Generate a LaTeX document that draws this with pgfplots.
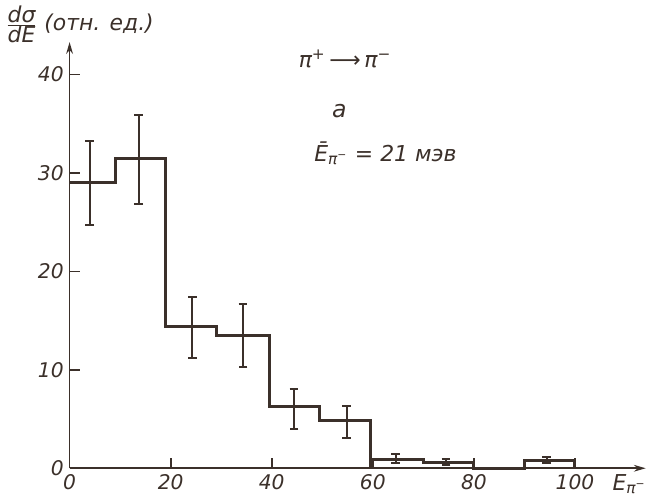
\documentclass[border=0pt]{standalone}
\usepackage{pgfplots}
\pgfplotsset{compat=1.18}
\usepackage{fontspec}
\setmainfont{DejaVu Sans}
\usetikzlibrary{arrows.meta}
\definecolor{ink}{HTML}{3B302A}

\begin{document}
\begin{tikzpicture}
\begin{axis}[
    scale only axis,
    width=342pt, height=253pt,
    xmin=0, xmax=114, ymin=0, ymax=43.3,
    axis lines=left,
    axis line style={ink, line width=1pt, -{Stealth[length=7pt,width=4pt]}},
    xtick={0,20,...,100},
    ytick={0,10,...,40},
    tick align=inside,
    major tick length=6pt,
    tick style={ink, line width=1pt},
    tick label style={font=\fontsize{12}{14}\selectfont\itshape, text=ink},
    /pgf/number format/assume math mode=true,
    clip=false,
]
% histogram
\addplot[const plot, ink, line width=1.8pt] coordinates {
    (0,29) (9,31.5) (19,14.4) (29,13.5) (39.5,6.3) (49.5,4.9)
    (59.6,0) (59.6,0.9) (70,0.6) (80,0) (90,0.8) (100,0)
};
% error bars
\addplot[draw=none, mark=none,
    error bars/.cd, y dir=both, y explicit,
    error bar style={draw=ink, solid, line width=1.2pt},
    error mark options={rotate=90, mark size=2.6pt, draw=ink, line width=1.2pt}]
coordinates {
    (4,28.9)    += (0,4.3) -= (0,4.2)
    (13.7,31.5) += (0,4.4) -= (0,4.7)
    (24.3,14.4) += (0,3.0) -= (0,3.2)
    (34.3,13.5) += (0,3.2) -= (0,3.2)
    (44.4,6.3)  += (0,1.8) -= (0,2.3)
    (54.8,4.9)  += (0,1.4) -= (0,1.8)
    (64.5,0.9)  += (0,0.5) -= (0,0.4)
    (74.5,0.6)  += (0,0.3) -= (0,0.3)
    (94.4,0.8)  += (0,0.3) -= (0,0.3)
};
\node[ink, font=\fontsize{13}{15}\selectfont\itshape] at (axis cs:2.0,45.1)
    {$\frac{\mbox{dσ}}{\mbox{dE}}$ (отн. ед.)};
\node[ink, font=\fontsize{13}{15}\selectfont\itshape] at (axis cs:54.5,41.6)
    {π\textsuperscript{+}\,⟶\,π\textsuperscript{−}};
\node[ink, font=\fontsize{14}{16}\selectfont\itshape] at (axis cs:53.4,36.3) {а};
\node[ink, font=\fontsize{13}{15}\selectfont\itshape] at (axis cs:62.5,32)
    {\={E}\textsubscript{π\textsuperscript{−}} = 21 мэв};
\node[ink, font=\fontsize{13}{15}\selectfont\itshape, anchor=north] at (axis cs:110.8,0)
    {E\textsubscript{π\textsuperscript{−}}};
\end{axis}
\end{tikzpicture}
\end{document}
